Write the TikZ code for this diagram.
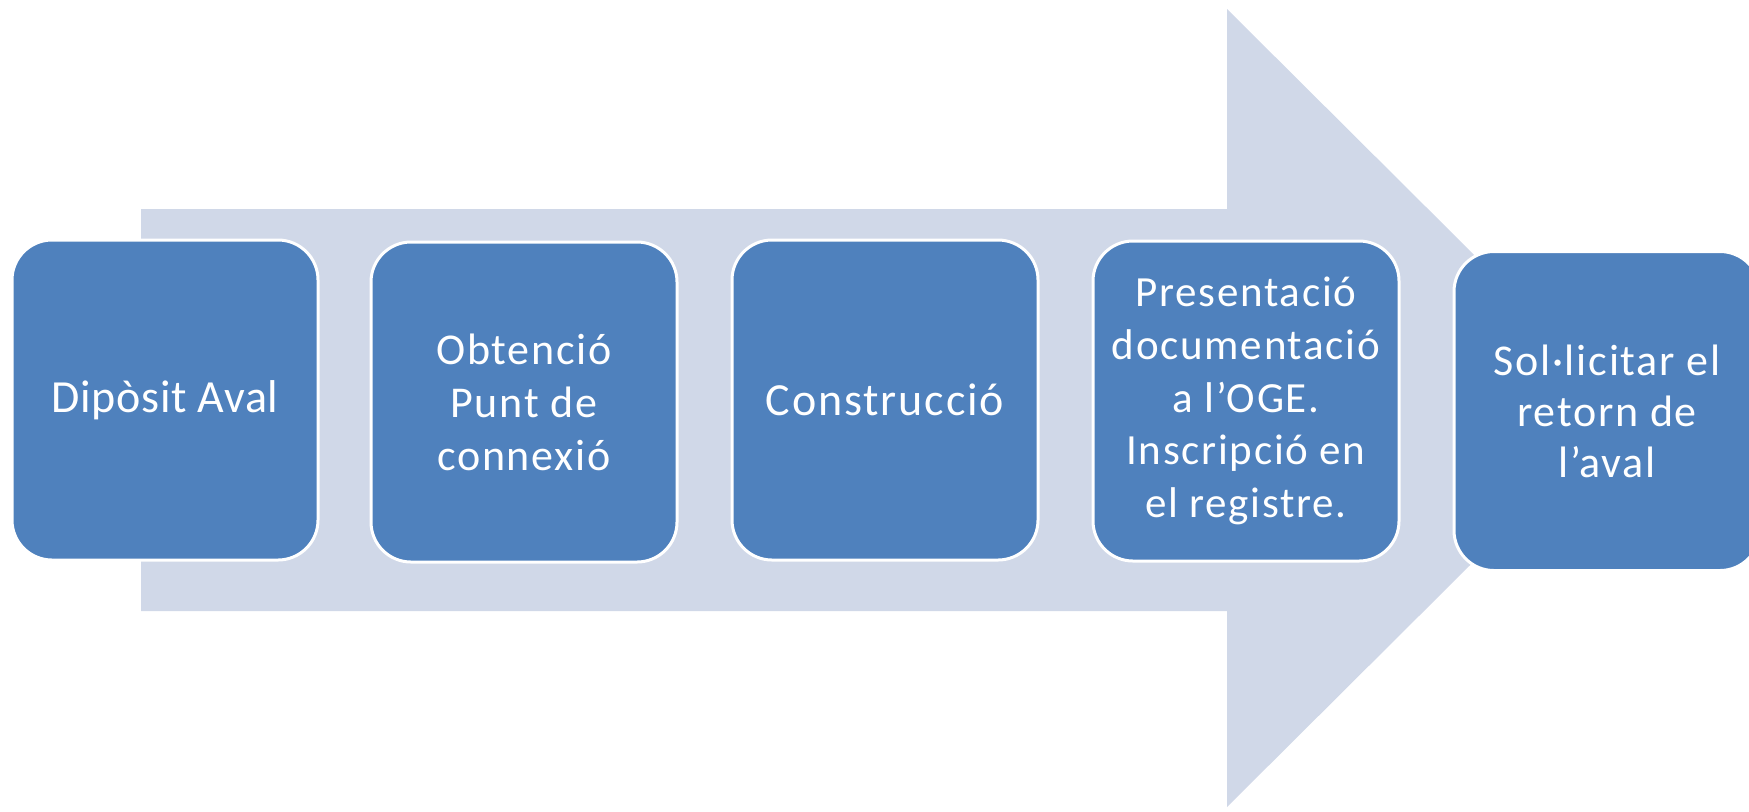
\documentclass[tikz,border=0pt]{standalone}
\usepackage{fontspec}
\setmainfont{Carlito}[LetterSpace=4]
\definecolor{boxblue}{HTML}{4F81BD}
\definecolor{arrowgray}{HTML}{D0D8E8}
\begin{document}
\begin{tikzpicture}[x=0.5pt,y=-0.5pt]
\tikzset{
  stepbox/.style={rectangle, rounded corners=20pt, fill=boxblue, draw=white,
    line width=1.5pt, minimum width=153pt, minimum height=160pt,
    text=white, align=center, inner sep=0pt,
    font=\fontsize{22}{26.5}\selectfont},
  bigarrow/.style={fill=arrowgray, draw=none}
}
\useasboundingbox (0,0) rectangle (1749,811);
\fill[bigarrow] (141,209) -- (1227,209) -- (1227,9) -- (1628,408) -- (1227,807) -- (1227,611) -- (141,611) -- cycle;
\node[stepbox, font=\fontsize{23}{28}\selectfont\addfontfeature{LetterSpace=1.5}] (b1) at (165,400) {Dipòsit Aval};
\node[stepbox] (b2) at (524,402) {Obtenció\\Punt de\\connexió};
\node[stepbox, font=\fontsize{23}{28}\selectfont] (b3) at (885,400) {Construcció};
\node[stepbox, font=\fontsize{21.5}{26.3}\selectfont] (b4) at (1246,401) {Presentació\\documentació\\a l’OGE.\\Inscripció en\\el registre.};
\node[stepbox, minimum height=159.5pt, font=\fontsize{22}{25.5}\selectfont] (b5) at (1607,411) {Sol·licitar el\\retorn de\\l’aval};
\end{tikzpicture}
\end{document}
